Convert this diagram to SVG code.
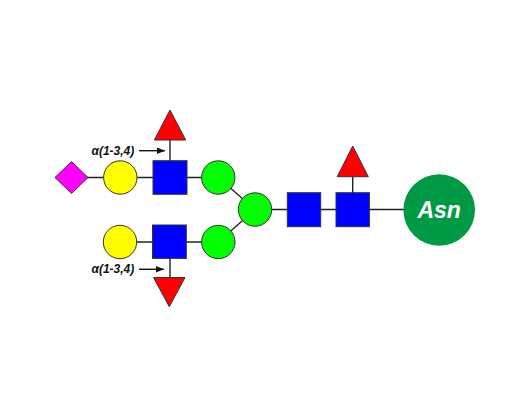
<svg xmlns="http://www.w3.org/2000/svg" width="520" height="420" viewBox="0 0 520 420">
<defs>
<style>
.ln{stroke:#222;stroke-width:1.4;fill:none}
.sh{stroke:#333;stroke-width:1}
.lbl{font-family:"Liberation Sans",Arial,sans-serif;font-size:12px;font-style:italic;font-weight:bold;fill:#111}
</style>
<marker id="ah" viewBox="0 0 10 10" refX="10" refY="5" markerWidth="11" markerHeight="8" markerUnits="userSpaceOnUse" orient="auto">
<path d="M0,1 L10,5 L0,9 Z" fill="#111"/>
</marker>
</defs>
<rect width="520" height="420" fill="#fff"/>
<g id="connectors">
<line class="ln" x1="71.5" y1="177.5" x2="170" y2="177.5"/>
<line class="ln" x1="170" y1="177.5" x2="218.3" y2="177.5"/>
<line class="ln" x1="170" y1="140" x2="170" y2="177.5"/>
<line class="ln" x1="120" y1="242" x2="218.3" y2="242"/>
<line class="ln" x1="170" y1="242" x2="170" y2="277.5"/>
<line class="ln" x1="218.3" y1="177.5" x2="255" y2="209.5"/>
<line class="ln" x1="218.3" y1="242" x2="255" y2="209.5"/>
<line class="ln" x1="255" y1="209.5" x2="439" y2="209.5"/>
<line class="ln" x1="352.7" y1="176.7" x2="352.7" y2="209.5"/>
<line x1="139" y1="150.7" x2="165" y2="150.7" stroke="#111" stroke-width="1.4" marker-end="url(#ah)"/>
<line x1="139" y1="269.3" x2="164" y2="269.3" stroke="#111" stroke-width="1.4" marker-end="url(#ah)"/>
</g>
<g id="label-upper"><text class="lbl" x="91.5" y="154.5">α(1-3,4)</text></g>
<g id="label-lower"><text class="lbl" x="91.5" y="273">α(1-3,4)</text></g>
<g id="neuac"><polygon class="sh" points="71.5,161.5 88,177.5 71.5,193.5 55,177.5" fill="#ff00ff"/></g>
<g id="gal-upper"><circle class="sh" cx="120.3" cy="177.5" r="16.7" fill="#ffff00"/></g>
<g id="glcnac-upper"><rect class="sh" x="153" y="160.7" width="34" height="33.6" fill="#0000ff"/></g>
<g id="fuc-upper"><polygon class="sh" points="170,110 185.7,140 154.3,140" fill="#ff0000"/></g>
<g id="man-upper"><circle class="sh" cx="218.3" cy="177.5" r="16.7" fill="#00ff00"/></g>
<g id="gal-lower"><circle class="sh" cx="120" cy="242" r="16.7" fill="#ffff00"/></g>
<g id="glcnac-lower"><rect class="sh" x="152.5" y="225" width="33.8" height="33.4" fill="#0000ff"/></g>
<g id="fuc-lower"><polygon class="sh" points="153.5,277.5 185,277.5 169.3,306.7" fill="#ff0000"/></g>
<g id="man-lower"><circle class="sh" cx="218.3" cy="242" r="16.7" fill="#00ff00"/></g>
<g id="man-core"><circle class="sh" cx="255" cy="209.5" r="16.7" fill="#00ff00"/></g>
<g id="glcnac-core2"><rect class="sh" x="287.3" y="192.7" width="33.4" height="34" fill="#0000ff"/></g>
<g id="glcnac-core1"><rect class="sh" x="336" y="192.7" width="33.4" height="34" fill="#0000ff"/></g>
<g id="fuc-core"><polygon class="sh" points="352.7,146 368.3,176.7 337.2,176.7" fill="#ff0000"/></g>
<g id="asn">
<circle cx="439.2" cy="210" r="35.8" fill="#009a44"/>
<text x="439.2" y="218" text-anchor="middle" font-family="'Liberation Sans',Arial,sans-serif" font-size="23" font-weight="bold" font-style="italic" fill="#fff">Asn</text>
</g>
</svg>
